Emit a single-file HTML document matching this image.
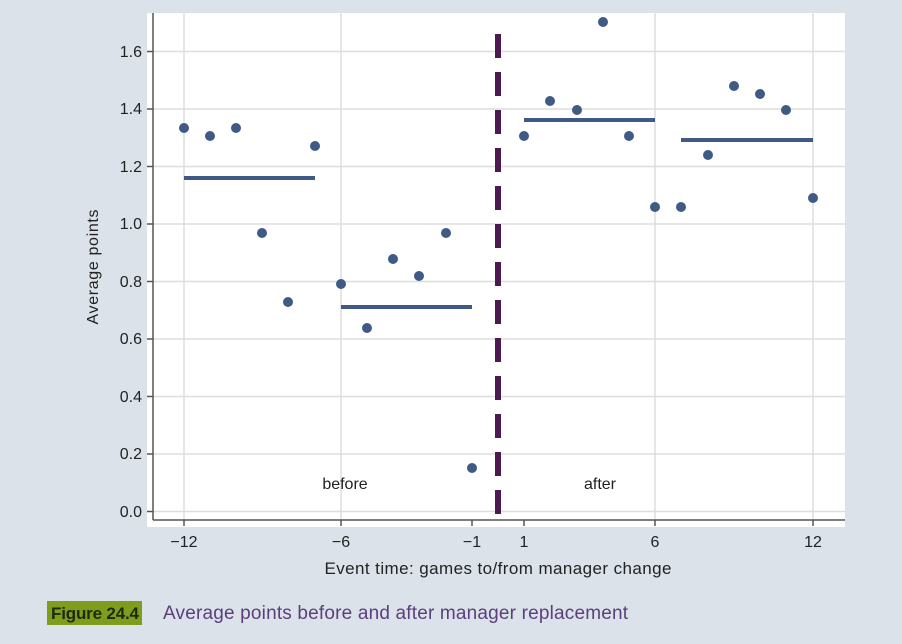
<!DOCTYPE html><html><head><style>body{margin:0;background:#dbe2e9;width:902px;height:639px;overflow:hidden;font-family:"Liberation Sans",sans-serif}</style></head><body>
<svg width="902" height="639" xmlns="http://www.w3.org/2000/svg" font-family="Liberation Sans, sans-serif">
<rect x="147" y="13" width="698" height="514" fill="#fff"/>
<g stroke="#ddd" stroke-width="1.5">
<line x1="153" x2="845" y1="511.5" y2="511.5"/><line x1="153" x2="845" y1="454" y2="454"/><line x1="153" x2="845" y1="396.5" y2="396.5"/><line x1="153" x2="845" y1="339" y2="339"/><line x1="153" x2="845" y1="281.5" y2="281.5"/><line x1="153" x2="845" y1="224" y2="224"/><line x1="153" x2="845" y1="166.5" y2="166.5"/><line x1="153" x2="845" y1="109" y2="109"/><line x1="153" x2="845" y1="51.5" y2="51.5"/>
<line x1="184" x2="184" y1="13" y2="520"/><line x1="341" x2="341" y1="13" y2="520"/><line x1="655" x2="655" y1="13" y2="520"/><line x1="813" x2="813" y1="13" y2="520"/>
</g>
<g stroke="#555" stroke-width="1.5"><line x1="153" x2="153" y1="13" y2="520"/><line x1="153" x2="845" y1="520" y2="520"/>
<line x1="147" x2="153" y1="511.5" y2="511.5"/><line x1="147" x2="153" y1="454" y2="454"/><line x1="147" x2="153" y1="396.5" y2="396.5"/><line x1="147" x2="153" y1="339" y2="339"/><line x1="147" x2="153" y1="281.5" y2="281.5"/><line x1="147" x2="153" y1="224" y2="224"/><line x1="147" x2="153" y1="166.5" y2="166.5"/><line x1="147" x2="153" y1="109" y2="109"/><line x1="147" x2="153" y1="51.5" y2="51.5"/>
<line x1="184" x2="184" y1="520" y2="526"/><line x1="341" x2="341" y1="520" y2="526"/><line x1="472" x2="472" y1="520" y2="526"/><line x1="524" x2="524" y1="520" y2="526"/><line x1="655" x2="655" y1="520" y2="526"/><line x1="813" x2="813" y1="520" y2="526"/></g>
<g font-size="16" fill="#222" text-anchor="end">
<text x="142" y="517">0.0</text><text x="142" y="459">0.2</text><text x="142" y="402">0.4</text><text x="142" y="344">0.6</text><text x="142" y="287">0.8</text><text x="142" y="229">1.0</text><text x="142" y="172">1.2</text><text x="142" y="114">1.4</text><text x="142" y="57">1.6</text></g>
<g font-size="16" fill="#222" text-anchor="middle">
<text x="184" y="547">−12</text><text x="341" y="547">−6</text><text x="472" y="547">−1</text><text x="524" y="547">1</text><text x="655" y="547">6</text><text x="813" y="547">12</text>
<text x="498" y="574" textLength="347" font-size="17">Event time: games to/from manager change</text>
<text x="345" y="489">before</text><text x="600" y="489">after</text>
<text transform="translate(98,267) rotate(-90)" textLength="115">Average points</text></g>
<line x1="498" x2="498" y1="34" y2="520" stroke="#4b1a4e" stroke-width="6" stroke-dasharray="24,14"/>
<g stroke="#3f5a85" stroke-width="4"><line x1="184" x2="315" y1="178" y2="178"/><line x1="341" x2="472" y1="307" y2="307"/><line x1="524" x2="655" y1="120" y2="120"/><line x1="681" x2="813" y1="140" y2="140"/></g>
<g fill="#3f5a85">
<circle cx="184" cy="128" r="5"/><circle cx="210" cy="136" r="5"/><circle cx="236" cy="128" r="5"/><circle cx="262" cy="233" r="5"/><circle cx="288" cy="302" r="5"/><circle cx="315" cy="146" r="5"/>
<circle cx="341" cy="284" r="5"/><circle cx="367" cy="328" r="5"/><circle cx="393" cy="259" r="5"/><circle cx="419" cy="276" r="5"/><circle cx="446" cy="233" r="5"/><circle cx="472" cy="468" r="5"/>
<circle cx="524" cy="136" r="5"/><circle cx="550" cy="101" r="5"/><circle cx="577" cy="110" r="5"/><circle cx="603" cy="22" r="5"/><circle cx="629" cy="136" r="5"/><circle cx="655" cy="207" r="5"/>
<circle cx="681" cy="207" r="5"/><circle cx="708" cy="155" r="5"/><circle cx="734" cy="86" r="5"/><circle cx="760" cy="94" r="5"/><circle cx="786" cy="110" r="5"/><circle cx="813" cy="198" r="5"/></g>
<rect x="47" y="601" width="95" height="24" fill="#7f9d1c"/>
<text x="51" y="619" font-size="17" font-weight="bold" fill="#1e2a10" textLength="88">Figure 24.4</text>
<text x="163" y="619" font-size="19" fill="#5b3f7c" textLength="465">Average points before and after manager replacement</text>
</svg></body></html>
